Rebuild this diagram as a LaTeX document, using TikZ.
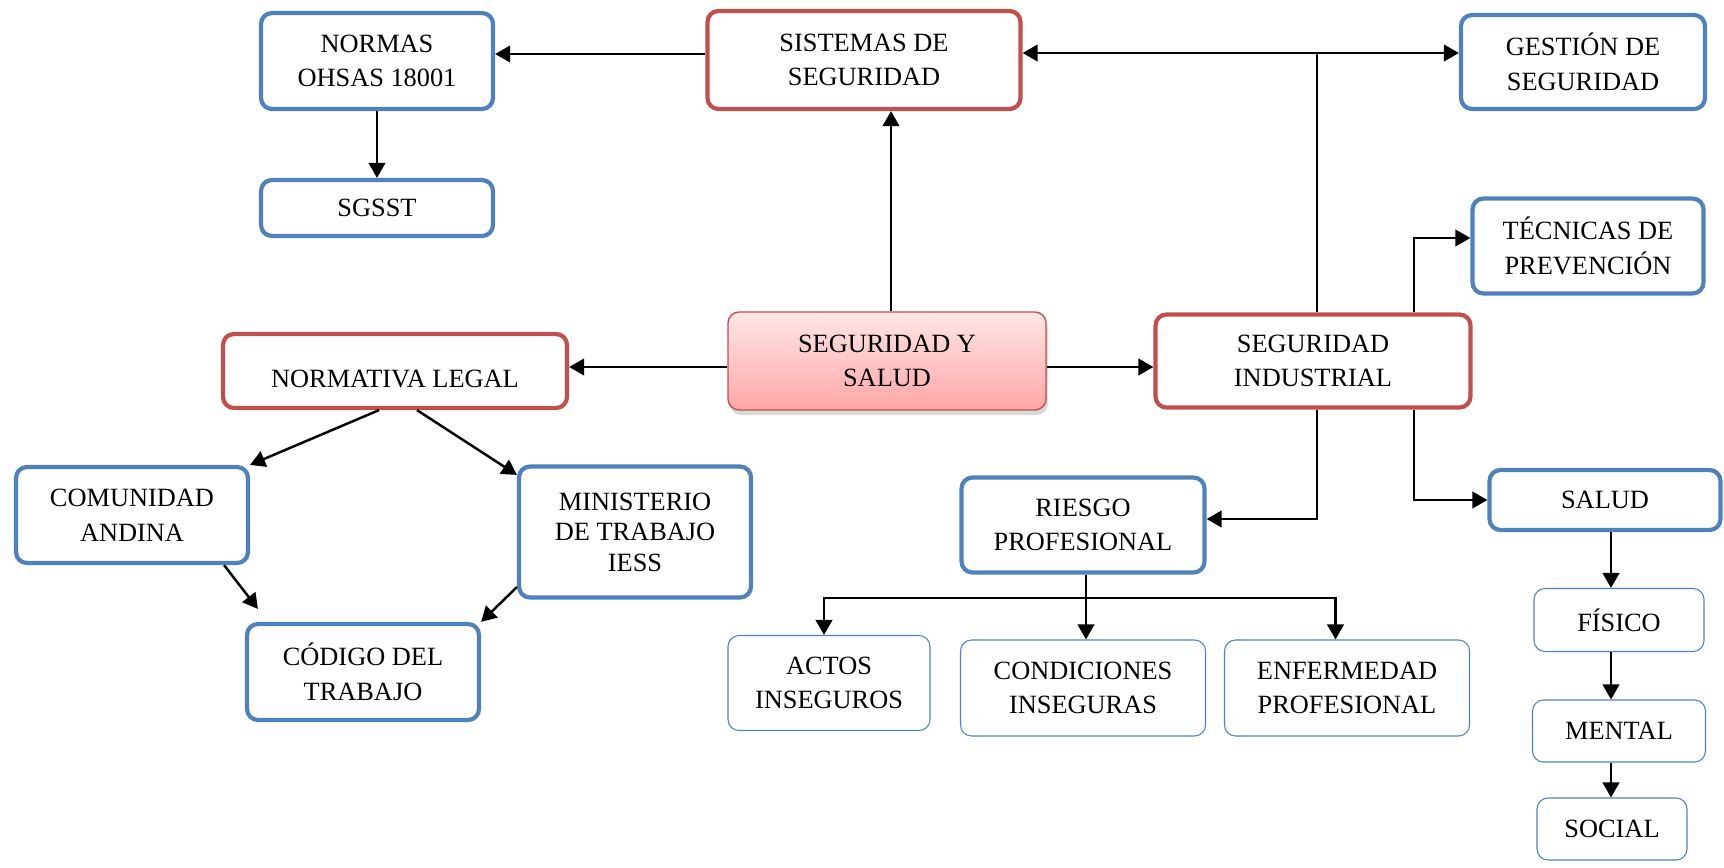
\documentclass[tikz,border=0pt]{standalone}
\usepackage{fontspec}
\setmainfont{Liberation Serif}
\usepackage{tikz}
\usetikzlibrary{arrows.meta}
\usetikzlibrary{shadows}

\definecolor{azul}{HTML}{4F81BD}
\definecolor{rojo}{HTML}{C0504D}
\definecolor{rosaclaro}{HTML}{FFE6E6}
\definecolor{rosa}{HTML}{FFA6A6}

\begin{document}
\begin{tikzpicture}[x=0.2mm,y=-0.2mm,
  >={Triangle[length=3mm,width=3.3mm]},
  every node/.style={align=center,inner sep=0pt,font=\fontsize{15}{19.7}\selectfont},
  azulbox/.style={draw=azul,line width=2.4pt,rounded corners=2.2mm},
  rojobox/.style={draw=rojo,line width=2.4pt,rounded corners=2.2mm},
  finobox/.style={draw=azul,line width=0.6pt,rounded corners=2.2mm},
  flecha/.style={->,line width=1.4pt}
]
\useasboundingbox (0,0) rectangle (1724,867);

% upper row
\node[azulbox,minimum width=46.4mm,minimum height=19.2mm] (normas) at (377,61) {NORMAS\\OHSAS 18001};
\node[azulbox,minimum width=46.4mm,minimum height=11.2mm] (sgsst) at (377,208) {SGSST};
\node[rojobox,minimum width=62.6mm,minimum height=19.6mm] (sistemas) at (864,60) {SISTEMAS DE\\SEGURIDAD};
\node[azulbox,minimum width=48.8mm,minimum height=18.8mm] (gestion) at (1583,62) {GESTIÓN DE\\SEGURIDAD};
\node[azulbox,minimum width=46.2mm,minimum height=19mm] (tecnicas) at (1588,246) {TÉCNICAS DE\\PREVENCIÓN};

% middle row
\node[draw=rojo,line width=0.8pt,rounded corners=2.2mm,top color=rosaclaro,bottom color=rosa,
  drop shadow={shadow xshift=0.4mm,shadow yshift=-1mm,opacity=0.3},
  minimum width=63.6mm,minimum height=19.6mm] (sys) at (887,361) {SEGURIDAD Y\\SALUD};
\node[rojobox,minimum width=68.8mm,minimum height=14.8mm,text height=6.5mm,text depth=0pt] (normativa) at (395,371) {NORMATIVA LEGAL};
\node[rojobox,minimum width=63mm,minimum height=18.6mm] (segind) at (1313,361) {SEGURIDAD\\INDUSTRIAL};

% lower left
\node[azulbox,minimum width=46.4mm,minimum height=19.2mm] (comunidad) at (132,515) {COMUNIDAD\\ANDINA};
\node[azulbox,minimum width=46.4mm,minimum height=26.2mm,font=\fontsize{15}{17.4}\selectfont] (ministerio) at (635,532) {MINISTERIO\\DE TRABAJO\\IESS};
\node[azulbox,minimum width=46.4mm,minimum height=19.2mm] (codigo) at (363,672) {CÓDIGO DEL\\TRABAJO};

% lower right
\node[azulbox,minimum width=48.6mm,minimum height=19mm] (riesgo) at (1083,525) {RIESGO\\PROFESIONAL};
\node[finobox,minimum width=40.4mm,minimum height=19mm] (actos) at (829,683) {ACTOS\\INSEGUROS};
\node[finobox,minimum width=49mm,minimum height=19.2mm] (condiciones) at (1083,688) {CONDICIONES\\INSEGURAS};
\node[finobox,minimum width=49mm,minimum height=19.2mm] (enfermedad) at (1347,688) {ENFERMEDAD\\PROFESIONAL};
\node[azulbox,minimum width=46.2mm,minimum height=12mm] (salud) at (1605,500) {SALUD};
\node[finobox,minimum width=34mm,minimum height=12.6mm] (fisico) at (1619,620) {FÍSICO};
\node[finobox,minimum width=34.6mm,minimum height=12.4mm] (mental) at (1619,731) {MENTAL};
\node[finobox,minimum width=30mm,minimum height=12.4mm] (social) at (1612,829) {SOCIAL};

% junctions
\coordinate (v) at (891,0);
\coordinate (j1) at (1317,53);
\coordinate (j2) at (1414,238);
\coordinate (h) at (0,367);
\coordinate (j3) at (1086,598);
\coordinate (j4) at (1611,0);

\draw[flecha] ([yshift=1.2mm]sistemas.west) -- ([yshift=1.2mm]sistemas.west -| normas.east);
\draw[flecha] (normas) -- (sgsst);
\draw[flecha] (sys.north -| v) -- (sistemas.south -| v);
\draw[flecha] (segind.north -| j1) |- (sistemas.east |- j1);
\draw[flecha] (j1) -- (gestion.west |- j1);
\draw[flecha] (segind.north -| j2) |- (tecnicas.west |- j2);
\draw[flecha] (sys.west |- h) -- (normativa.east |- h);
\draw[flecha] (sys.east |- h) -- (segind.west |- h);
\draw[flecha] (segind.south -| j1) |- ([yshift=1.2mm]riesgo.east);
\draw[flecha] (segind.south -| j2) |- (salud.west);
\draw[flecha] (riesgo.south -| j3) -- (condiciones.north -| j3);
\draw[flecha] (j3) -| ([xshift=-1mm]actos.north);
\draw[flecha] (j3) -| ([xshift=-2.3mm]enfermedad.north);
\draw[flecha] ([xshift=-3.2mm]normativa.south) -- (comunidad.north east);
\draw[flecha] ([xshift=4.4mm]normativa.south) -- ([yshift=-2.1mm]ministerio.north west);
\draw[flecha] ([xshift=-5.2mm]comunidad.south east) -- ([xshift=2.6mm,yshift=2.6mm]codigo.north west);
\draw[flecha] ([yshift=2.5mm]ministerio.south west) -- (codigo.north east);
\draw[flecha] (salud.south -| j4) -- (fisico.north -| j4);
\draw[flecha] (fisico.south -| j4) -- (mental.north -| j4);
\draw[flecha] (mental.south -| j4) -- (social.north -| j4);
\end{tikzpicture}
\end{document}
